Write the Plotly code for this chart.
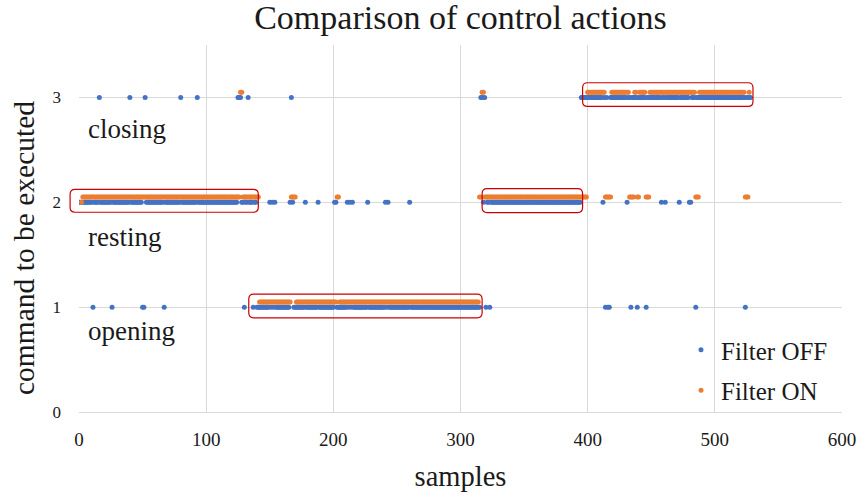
import plotly.graph_objects as go

# Command issued at each sample (1 = opening, 2 = resting, 3 = closing).
# Each series is stored as runs (first sample, last sample, command) plus
# isolated samples whose command differs from the surrounding run.
OFF_RUNS = [(0, 139, 2), (140, 315, 1), (316, 317, 3), (318, 318, 2), (319, 319, 3),
            (320, 320, 1), (321, 322, 2), (323, 323, 1), (324, 394, 2), (395, 528, 3)]
OFF_OPENING = [11, 26, 50, 51, 67, 130, 137, 414, 416, 417, 434, 439, 446, 485, 524]
OFF_RESTING = [150, 152, 154, 166, 168, 178, 188, 201, 202, 211, 213, 215, 227, 241, 243,
               260, 412, 431, 458, 461, 472, 480, 481]
OFF_CLOSING = [16, 40, 52, 80, 93, 125, 126, 127, 133, 167]

ON_RUNS = [(2, 2, 1.95), (3, 141, 2), (142, 314, 1), (315, 316, 2), (317, 318, 3),
           (319, 399, 2), (400, 527, 3)]
ON_RESTING = [167, 168, 169, 170, 203, 204, 414, 415, 416, 417, 418, 433, 434, 435, 436,
              439, 440, 446, 447, 448, 485, 486, 487, 524, 525, 526]
ON_CLOSING = [127, 128]

X_TICKS = [0, 100, 200, 300, 400, 500, 600]
Y_TICKS = [0, 1, 2, 3]
X_RANGE = [0, 600]
Y_RANGE = [0, 3.5]

# highlighted regions: (first sample, last sample, lower command, upper command)
REGIONS = [(-7, 141, 1.905, 2.124), (133.5, 317, 0.898, 1.124),
           (317, 396, 1.902, 2.13), (396, 530, 2.914, 3.14)]

LABELS = [("closing", 2.70), ("resting", 1.672), ("opening", 0.772)]

ON_OFFSET = 0.05  # ON series is drawn slightly above the OFF series

FONT = "Liberation Serif"
INK = "#1a1a1a"
BLUE = "#4472C4"
ORANGE = "#ED7D31"
GRID = "#d9d9d9"


def expand(runs, overrides):
    values = {}
    for start, end, level in runs:
        for s in range(start, end + 1):
            values[s] = level
    for level, samples in overrides:
        for s in samples:
            values[s] = level
    xs = sorted(values)
    return xs, [values[s] for s in xs]


off_x, off_y = expand(OFF_RUNS, [(1, OFF_OPENING), (2, OFF_RESTING), (3, OFF_CLOSING)])
on_x, on_y = expand(ON_RUNS, [(2, ON_RESTING), (3, ON_CLOSING)])

fig = go.Figure()
fig.add_trace(go.Scatter(x=off_x, y=off_y, mode="markers", name="Filter OFF",
                         legendgroup="off",
                         marker=dict(color=BLUE, size=5, line=dict(width=0))))
fig.add_trace(go.Scatter(x=on_x, y=[v + ON_OFFSET for v in on_y], mode="markers",
                         name="Filter ON", legendgroup="on",
                         marker=dict(color=ORANGE, size=5, line=dict(width=0))))


def to_paper(v, rng):
    return (v - rng[0]) / (rng[1] - rng[0])


W, H = 863, 492
M = dict(l=79, r=21, t=45, b=80)
plot_w = W - M["l"] - M["r"]
plot_h = H - M["t"] - M["b"]
rx = 5 / plot_w
ry = 5 / plot_h

for s0, s1, c0, c1 in REGIONS:
    x0, x1 = to_paper(s0, X_RANGE), to_paper(s1, X_RANGE)
    y0, y1 = to_paper(c0, Y_RANGE), to_paper(c1, Y_RANGE)
    path = (f"M {x0 + rx},{y0} L {x1 - rx},{y0} Q {x1},{y0} {x1},{y0 + ry} "
            f"L {x1},{y1 - ry} Q {x1},{y1} {x1 - rx},{y1} L {x0 + rx},{y1} "
            f"Q {x0},{y1} {x0},{y1 - ry} L {x0},{y0 + ry} Q {x0},{y0} {x0 + rx},{y0} Z")
    fig.add_shape(type="path", path=path, xref="paper", yref="paper",
                  line=dict(color="#CC0000", width=1.2), layer="above")

for text, level in LABELS:
    fig.add_annotation(x=5.5, y=level, xref="x", yref="y", text=text, showarrow=False,
                       xanchor="left", yanchor="middle",
                       font=dict(family=FONT, size=27, color=INK))

# vertical axis title
fig.add_annotation(x=-55 / plot_w, y=(412 - 248) / plot_h, xref="paper", yref="paper",
                   text="command to be executed", textangle=-90, showarrow=False,
                   xanchor="center", yanchor="middle",
                   font=dict(family=FONT, size=29.5, color=INK))

fig.update_layout(
    width=W, height=H,
    margin=M,
    paper_bgcolor="white", plot_bgcolor="white",
    font=dict(family=FONT, color=INK),
    title=dict(text="Comparison of control actions", x=0.5, xanchor="center",
               xref="paper", y=1 - 17 / H, yanchor="middle", yref="container",
               font=dict(family=FONT, size=34, color=INK)),
    xaxis=dict(range=X_RANGE, tickvals=X_TICKS, showgrid=True, gridcolor=GRID,
               gridwidth=1, zeroline=False, showline=True, linecolor=GRID,
               ticks="", ticklabelstandoff=10, automargin=False,
               tickfont=dict(family=FONT, size=19, color=INK),
               title=dict(text="samples", standoff=18,
                          font=dict(family=FONT, size=28.5, color=INK))),
    yaxis=dict(range=Y_RANGE, tickvals=Y_TICKS, showgrid=True, gridcolor=GRID,
               gridwidth=1, zeroline=False, showline=False, automargin=False,
               ticks="", ticklabelstandoff=17,
               tickfont=dict(family=FONT, size=17, color=INK)),
    showlegend=True,
    legend=dict(x=(681 - 79) / plot_w, xanchor="left", y=(412 - 327) / plot_h,
                yanchor="top", bgcolor="rgba(0,0,0,0)", borderwidth=0,
                traceorder="grouped", tracegroupgap=5, itemwidth=30,
                font=dict(family=FONT, size=25, color=INK)),
)

fig.write_html("out.html")
